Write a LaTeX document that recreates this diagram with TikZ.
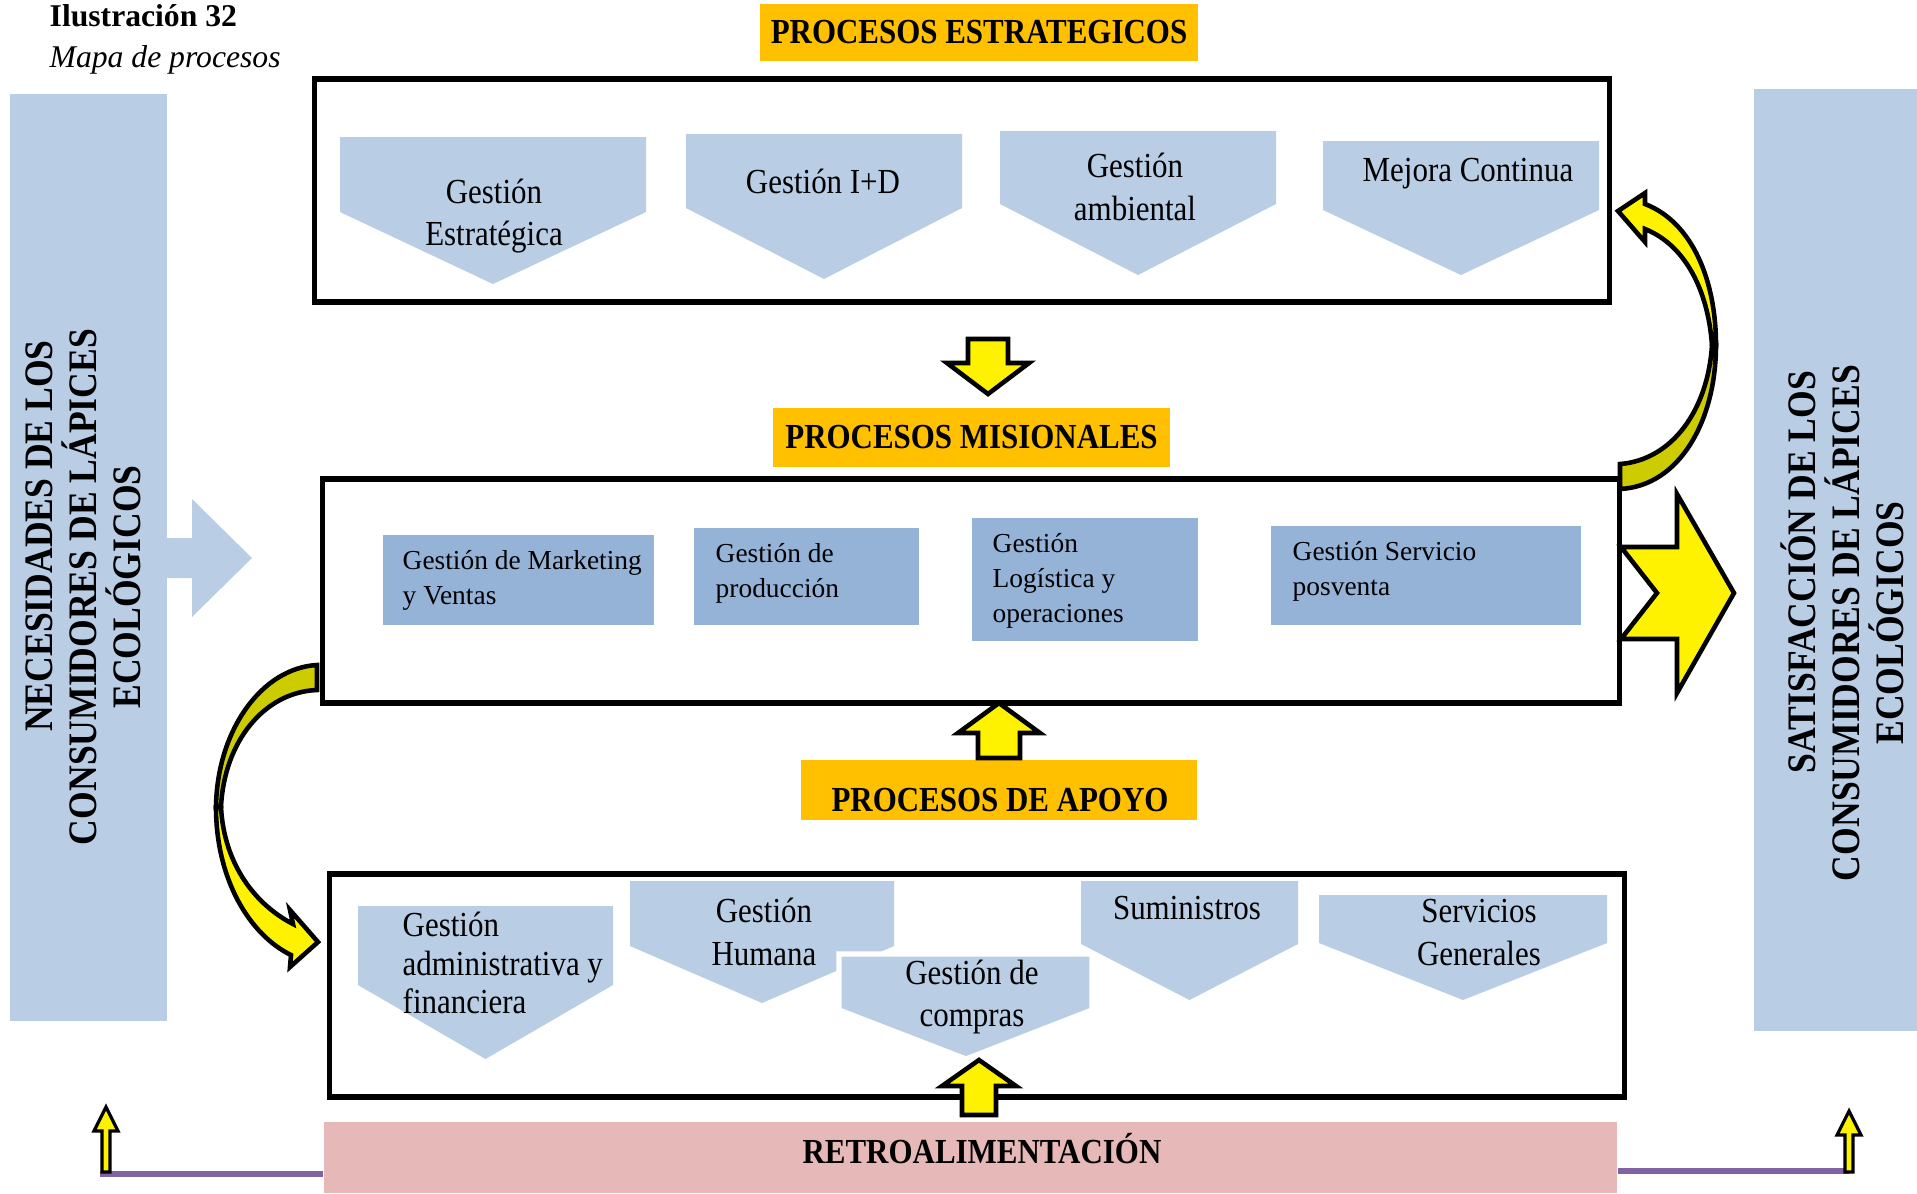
\documentclass[tikz,border=0pt]{standalone}
\usepackage{fontspec}
\setmainfont{Liberation Serif}
\newfontfamily\narrowfont[FakeStretch=0.88]{Liberation Serif}
\definecolor{chevblue}{HTML}{B9CDE5}
\definecolor{misblue}{HTML}{95B3D7}
\definecolor{headorange}{HTML}{FFC000}
\definecolor{retropink}{HTML}{E6B9B8}
\definecolor{linepurple}{HTML}{8064A2}
\definecolor{backolive}{HTML}{CCCC00}
\tikzset{
  procbox/.style={draw, fill=white, line width=1.5pt, inner sep=0pt},
  heading/.style={fill=headorange, inner sep=0pt, font=\narrowfont\bfseries\fontsize{10}{12}\selectfont},
  sidebar/.style={fill=chevblue, inner sep=0pt},
  sidetext/.style={rotate=90, align=center, font=\narrowfont\bfseries\fontsize{11.5}{12.5}\selectfont},
  chevtext/.style={align=center, font=\narrowfont\fontsize{10}{12}\selectfont},
  mistext/.style={anchor=west, align=left, inner sep=0pt, font=\fontsize{7.8}{10}\selectfont},
  yarrow/.style={fill=yellow, draw=black, line width=1.3pt, line join=miter},
}

\begin{document}
\begin{tikzpicture}[x=0.01cm, y=-0.01cm]
\useasboundingbox (0,0) rectangle (1917,1193);
% titulo
\node[anchor=base west, inner sep=0pt, font=\bfseries\fontsize{9}{11}\selectfont] (ilus) at (49,26) {Ilustración 32};
\node[anchor=base west, inner sep=0pt, font=\itshape\fontsize{9}{11}\selectfont] (mapa) at (49,67) {Mapa de procesos};
% barras laterales
\node[sidebar, minimum width=1.57cm, minimum height=9.27cm] (necbar) at (88.5,557.5) {};
\node[sidebar, minimum width=1.63cm, minimum height=9.42cm] (satbar) at (1835.5,560) {};
\fill[chevblue] (167,538) -- (192,538) -- (192,499) -- (252,558) -- (192,617) -- (192,578) -- (167,578) -- cycle;
\node[sidetext] (nec) at (83.5,587) {\hspace*{29pt}NECESIDADES DE LOS\\CONSUMIDORES DE LÁPICES\\ECOLÓGICOS};
\node[sidetext] (sat) at (1842,623) {\hspace*{29pt}SATISFACCIÓN DE LOS\\CONSUMIDORES DE LÁPICES\\ECOLÓGICOS};
% procesos estrategicos
\node[heading, minimum width=4.38cm, minimum height=0.57cm] (estr) at (979,32.5) {PROCESOS ESTRATEGICOS};
\node[procbox, minimum width=12.94cm, minimum height=2.23cm] (estrbox) at (962,190.5) {};
\foreach \xa/\xb/\yt/\ys/\yp in {340/646/137/212/284, 686/962/134/208/279, 1000/1276/131/204/275, 1323/1599/141/210/275}
  \fill[chevblue] (\xa,\yt) -- (\xb,\yt) -- (\xb,\ys) -- ({(\xa+\xb)/2},\yp) -- (\xa,\ys) -- cycle;
\node[chevtext] (gestra) at (494,216) {Gestión\\Estratégica};
\node[chevtext] (gesid) at (823,181) {Gestión I+D};
\node[chevtext] (gesamb) at (1135,187) {Gestión\\ambiental};
\node[chevtext] (mejora) at (1468,174) {Mejora Continua};
% procesos misionales
\node[heading, minimum width=3.97cm, minimum height=0.59cm] (mis) at (971.5,437.5) {PROCESOS MISIONALES};
\node[procbox, minimum width=12.96cm, minimum height=2.24cm] (misbox) at (971,591) {};
\foreach \xa/\ya/\xb/\yb in {383/535/654/625, 694/528/919/625, 972/518/1198/641, 1271/526/1581/625}
  \fill[misblue] (\xa,\ya) rectangle (\xb,\yb);
\node[mistext] (gesmar) at (402,580) {Gestión de Marketing\\y Ventas};
\node[mistext] (gesprod) at (715,573) {Gestión de\\producción};
\node[mistext] (geslog) at (992,581) {Gestión\\Logística y\\operaciones};
\node[mistext] (gesserv) at (1292,571.5) {Gestión Servicio\\posventa};
% procesos de apoyo
\node[heading, minimum width=3.96cm, minimum height=0.60cm] (apoyo) at (999,790) {};
\node[heading, fill=none] (apoyotxt) at (1000,800) {PROCESOS DE APOYO};
\node[procbox, minimum width=12.94cm, minimum height=2.23cm] (apoyobox) at (977,985.5) {};
\foreach \xa/\xb/\yt/\ys/\yp in {358/613/906/985/1059, 630/894/881/946/1003, 1081/1298/881/944/1000, 1319/1607/895/943/1000}
  \fill[chevblue] (\xa,\yt) -- (\xb,\yt) -- (\xb,\ys) -- ({(\xa+\xb)/2},\yp) -- (\xa,\ys) -- cycle;
\filldraw[chevblue, draw=white, line width=1.5pt] (839,954) -- (1092,954) -- (1092,1010) -- (966,1059) -- (839,1010) -- cycle;
\node[chevtext, anchor=west, align=left, inner sep=0pt, font=\narrowfont\fontsize{10}{11}\selectfont] (gesadm) at (402,963) {Gestión\\administrativa y\\financiera};
\node[chevtext] (geshum) at (764,932) {Gestión\\Humana};
\node[chevtext] (gescomp) at (972,997) {Gestión de\\compras};
\node[chevtext] (sumin) at (1187,908) {Suministros};
\node[chevtext] (servgen) at (1479,932.5) {Servicios\\Generales};
% retroalimentacion
\node[fill=retropink, minimum width=12.93cm, minimum height=0.71cm, inner sep=0pt] (retro) at (970.5,1157.5) {};
\node[font=\narrowfont\bfseries\fontsize{10}{12}\selectfont, inner sep=0pt] (retrotxt) at (982,1149) {RETROALIMENTACIÓN};
\coordinate (lfoot) at (100,1174);
\coordinate (rfoot) at (1849,1171);
\draw[linepurple, line width=1.8pt] (lfoot) -- (lfoot -| retro.west);
\draw[linepurple, line width=1.8pt] (rfoot -| retro.east) -- (rfoot);
% flechas amarillas
\foreach \x/\yt/\yh/\yb/\hh/\hs in {988/394/363/339/41/20, 999/703/733/758/41/21, 979/1060/1086/1115/37/17}
  \draw[yarrow] (\x,\yt) -- (\x+\hh,\yh) -- (\x+\hs,\yh) -- (\x+\hs,\yb) -- (\x-\hs,\yb) -- (\x-\hs,\yh) -- (\x-\hh,\yh) -- cycle;
\foreach \x/\yt/\yb in {106/1107/1172, 1849/1111/1172}
  \draw[yarrow, line width=0.9pt] (\x,\yt) -- (\x+12,\yt+24) -- (\x+4,\yt+24) -- (\x+4,\yb) -- (\x-4,\yb) -- (\x-4,\yt+24) -- (\x-12,\yt+24) -- cycle;
\draw[yarrow] (1621,547) -- (1677,547) -- (1677,494) -- (1734,593) -- (1677,693) -- (1677,639) -- (1621,639) -- (1657,593) -- cycle;
% flechas curvas
\draw[yarrow, fill=backolive] (1716,345) .. controls (1716,420) and (1680,486) .. (1620,489) -- (1620,464) .. controls (1672,460) and (1708,410) .. (1712,345) -- cycle;
\draw[yarrow] (1716,345) .. controls (1716,280) and (1692,222) .. (1645,204) -- (1645,193) -- (1618,211) -- (1645,242) -- (1645,229) .. controls (1685,245) and (1708,290) .. (1712,345) -- cycle;
\draw[yarrow, fill=backolive] (317,665) .. controls (262,668) and (217,730) .. (216,807) -- (221,807) .. controls (224,742) and (264,692) .. (317,690) -- cycle;
\draw[yarrow] (216,807) .. controls (216,880) and (250,935) .. (291,955) -- (290,967) -- (318,942) -- (290,910) -- (293,924) .. controls (256,905) and (224,865) .. (221,807) -- cycle;
\end{tikzpicture}
\end{document}
